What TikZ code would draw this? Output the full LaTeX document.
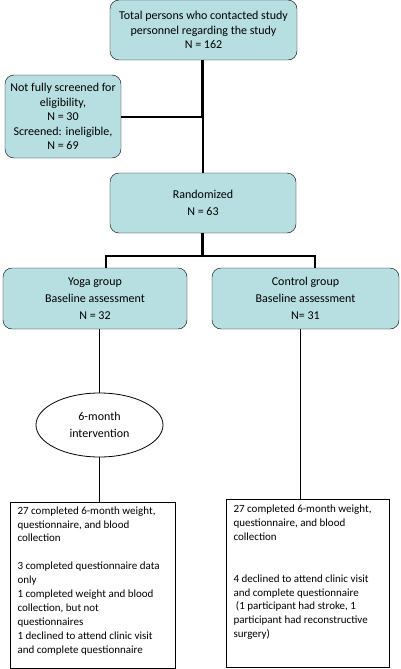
\documentclass[tikz,border=0pt]{standalone}
\usepackage{fontspec}
\setmainfont{Carlito}
\usetikzlibrary{shapes.geometric}

\definecolor{boxblue}{HTML}{B7DEE1}

\tikzset{
  stage/.style = {draw, rounded corners=9pt, fill=boxblue, align=center,
                  font=\fontsize{12}{14.5}\selectfont, inner sep=2pt},
  outcome/.style = {draw, line width=0.8pt, inner sep=0pt,
                    font=\fontsize{11}{13.9}\selectfont},
  thickline/.style = {line width=3.5pt},
  midline/.style = {line width=2pt},
  thinline/.style = {line width=0.8pt}
}

\begin{document}
\begin{tikzpicture}[x=1pt, y=-1pt]
   \useasboundingbox (0,0) rectangle (400,669);

   \node[stage, minimum width=187pt, minimum height=60pt] (total) at (203.5,30)
      {Total persons who contacted study\\personnel regarding the study\\N = 162};
   \node[stage, minimum width=116pt, minimum height=83pt] (excluded) at (63,116.5)
      {Not fully screened for\\eligibility,\\N = 30\\Screened: ineligible,\\N = 69};
   \node[stage, minimum width=186pt, minimum height=60pt,
         font=\fontsize{12}{17}\selectfont] (random) at (203,203)
      {Randomized\\N = 63};
   \node[stage, minimum width=184pt, minimum height=61pt,
         font=\fontsize{12}{17}\selectfont] (yoga) at (95,298.5)
      {Yoga group\\Baseline assessment\\N = 32};
   \node[stage, minimum width=187pt, minimum height=61pt,
         font=\fontsize{12}{17}\selectfont] (control) at (305.5,298.5)
      {Control group\\Baseline assessment\\N= 31};
   \node[draw, ellipse, thinline, minimum width=127pt, minimum height=64pt,
         align=center, font=\fontsize{12}{17}\selectfont] (interv) at (99.5,425)
      {6-month\\intervention};

   \node[outcome, minimum width=165pt, minimum height=166pt] (yogaout) at (92.5,585.5)
      {\parbox[c][158pt][t]{150pt}{\raggedright\hyphenpenalty=10000
        27 completed 6-month weight, questionnaire, and blood collection\par
        \vspace{13.9pt}
        3 completed questionnaire data only\par
        1 completed weight and blood collection, but not\\questionnaires\par
        1 declined to attend clinic visit and complete questionnaire}};
   \node[outcome, minimum width=163pt, minimum height=168pt] (controlout) at (307.5,583)
      {\parbox[c][156pt][t]{148pt}{\raggedright\hyphenpenalty=10000
        27 completed 6-month weight, questionnaire, and blood collection\par
        \vspace{27.8pt}
        4 declined to attend clinic visit and complete questionnaire\par
        \ (1 participant had stroke, 1 participant had reconstructive surgery)}};

   % screening
   \coordinate (split1) at (202.5,116.5);
   \draw[thickline] (total.south -| split1) -- (split1);
   \draw[midline] (split1) -- (random.north -| split1);
   \draw[midline] (excluded.east |- split1) -- (split1);

   % randomisation
   \coordinate (split2) at (202.5,256);
   \coordinate (yogatop) at (106,256);
   \coordinate (controltop) at (315,256);
   \draw[thickline] (random.south -| split2) -- (split2);
   \draw[midline] (yogatop |- yoga.north) -- (yogatop) -- (controltop)
      -- (controltop |- control.north);

   % follow-up
   \draw[thinline] (yoga.south -| interv.north) -- (interv.north);
   \draw[thinline] (interv.south) -- (yogaout.north -| interv.south);
   \draw[thinline] (control.south -| 300,0) -- (controlout.north -| 300,0);
\end{tikzpicture}
\end{document}
